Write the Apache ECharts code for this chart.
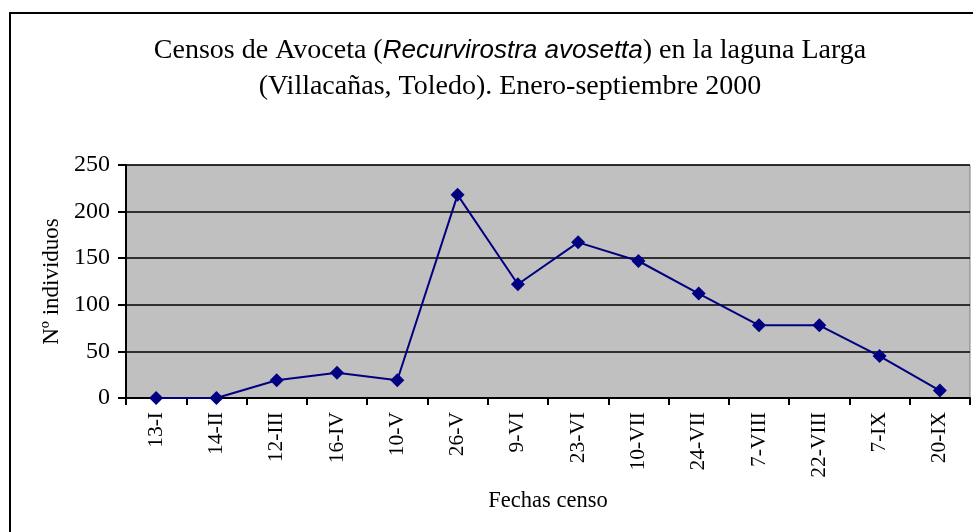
<!DOCTYPE html>
<html>
<head>
<meta charset="utf-8">
<script src="https://cdn.jsdelivr.net/npm/echarts@6/dist/echarts.min.js"></script>
<style>
  html, body { margin: 0; padding: 0; background: #fff; }
  #chart { width: 973px; height: 532px; }
</style>
</head>
<body>
<div id="chart"></div>
<script>
// Census dates and counts
const fechas = ['13-I', '14-II', '12-III', '16-IV', '10-V', '26-V', '9-VI', '23-VI',
                '10-VII', '24-VII', '7-VIII', '22-VIII', '7-IX', '20-IX'];
const individuos = [0, 0, 19, 27, 19, 218, 122, 167, 147, 112, 78, 78, 45, 8];
const yTicks = [0, 50, 100, 150, 200, 250];

const serif = '"Liberation Serif", "DejaVu Serif", serif';

const chart = echarts.init(document.getElementById('chart'));

chart.setOption({
    animation: false,
    graphic: [{
        type: 'rect',
        shape: { x: 10, y: 13, width: 1000, height: 600 },
        style: { fill: 'none', stroke: '#000', lineWidth: 2 }
    }],
    title: {
        left: 505,
        top: 28,
        textAlign: 'center',
        text: '{t|Censos de Avoceta (}{i|Recurvirostra avosetta}{t|) en la laguna Larga}\n{t|(Villacañas, Toledo). Enero-septiembre 2000}',
        textStyle: {
            fontWeight: 'normal',
            rich: {
                t: { fontFamily: serif, fontSize: 28, fontWeight: 'normal', color: '#000', lineHeight: 36 },
                i: { fontFamily: '"Liberation Sans", Arial, sans-serif', fontStyle: 'italic', fontWeight: 'normal', fontSize: 26, color: '#000', lineHeight: 36 }
            }
        }
    },
    grid: {
        left: 126,
        right: 3,
        top: 165,
        bottom: 134,
        show: true,
        backgroundColor: '#c0c0c0',
        borderColor: '#808080',
        borderWidth: 1
    },
    xAxis: {
        type: 'category',
        data: fechas,
        boundaryGap: true,
        name: 'Fechas censo',
        nameLocation: 'middle',
        nameGap: 92,
        nameTextStyle: { fontFamily: serif, fontSize: 22.5, color: '#000' },
        axisLine: { lineStyle: { color: '#000', width: 2 } },
        axisTick: { show: true, interval: 0, length: 7, lineStyle: { color: '#000', width: 2 } },
        axisLabel: { interval: 0, rotate: 90, margin: 14, fontFamily: serif, fontSize: 21.5, color: '#000' },
        splitLine: { show: false }
    },
    yAxis: {
        type: 'value',
        min: yTicks[0],
        max: yTicks[yTicks.length - 1],
        interval: 50,
        name: 'Nº individuos',
        nameLocation: 'middle',
        nameRotate: 90,
        nameGap: 62,
        nameTextStyle: { fontFamily: serif, fontSize: 23, color: '#000' },
        axisLine: { show: true, lineStyle: { color: '#000', width: 2 } },
        axisTick: { show: true, length: 8, lineStyle: { color: '#000', width: 2 } },
        axisLabel: { margin: 16, fontFamily: serif, fontSize: 24, color: '#000' },
        splitLine: { show: true, lineStyle: { color: '#000', width: 1.5 } }
    },
    series: [{
        type: 'line',
        data: individuos,
        symbol: 'diamond',
        symbolSize: 14,
        lineStyle: { color: '#000080', width: 2 },
        itemStyle: { color: '#000080' }
    }]
});
</script>
</body>
</html>
